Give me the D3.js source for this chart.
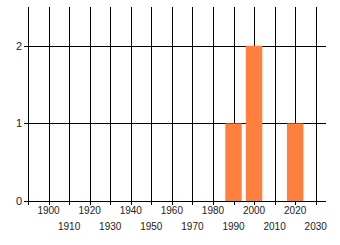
<!DOCTYPE html>
<html>
<head>
<meta charset="utf-8">
<script src="https://cdn.jsdelivr.net/npm/d3@7"></script>
<style>
  body { margin: 0; background: #fff; }
  text { font-family: "Liberation Sans", Arial, sans-serif; }
</style>
</head>
<body>
<div class="chart"></div>
<script>
const svgWidth = 340;
const svgHeight = 245;

// decades that have counts
const decades = [1990, 2000, 2020];
const counts = [1, 2, 1];

const xTicks = [1890, 1900, 1910, 1920, 1930, 1940, 1950, 1960, 1970, 1980, 1990, 2000, 2010, 2020, 2030];
const yTicks = [0, 1, 2];

const margin = { top: 7, right: 14, bottom: 44, left: 28 };

const svg = d3.select(".chart")
  .append("svg")
  .attr("width", svgWidth)
  .attr("height", svgHeight);

const x = d3.scaleLinear()
  .domain([1890, 2035])
  .range([margin.left, svgWidth - margin.right]);

const y = d3.scaleLinear()
  .domain([0, 2.5])
  .range([svgHeight - margin.bottom, margin.top]);

const g = svg.append("g").attr("shape-rendering", "crispEdges");

// vertical grid lines (run a little below the axis as tick marks)
g.selectAll(".vgrid")
  .data(xTicks)
  .enter()
  .append("line")
  .attr("x1", d => Math.round(x(d)) + 0.5)
  .attr("x2", d => Math.round(x(d)) + 0.5)
  .attr("y1", y(2.5))
  .attr("y2", Math.round(y(0)) + 4)
  .attr("stroke", "#000");

// horizontal grid lines with left tick marks
g.selectAll(".hgrid")
  .data(yTicks)
  .enter()
  .append("line")
  .attr("x1", x(1890) - 4)
  .attr("x2", x(2035))
  .attr("y1", d => Math.round(y(d)) + 0.5)
  .attr("y2", d => Math.round(y(d)) + 0.5)
  .attr("stroke", "#000");

// bars
svg.selectAll(".bar")
  .data(decades)
  .enter()
  .append("rect")
  .attr("x", d => x(d - 4))
  .attr("width", d => x(d + 4) - x(d - 4))
  .attr("y", (d, i) => y(counts[i]))
  .attr("height", (d, i) => y(0) - y(counts[i]))
  .attr("fill", "#ff7f3f");

// y labels
svg.selectAll(".ylab")
  .data(yTicks)
  .enter()
  .append("text")
  .attr("x", x(1890) - 6)
  .attr("y", d => y(d) + 4)
  .attr("text-anchor", "end")
  .attr("font-size", "11px")
  .attr("fill", "#222")
  .text(d => d);

// x labels, staggered in two rows
svg.selectAll(".xlab")
  .data(xTicks.slice(1))
  .enter()
  .append("text")
  .attr("x", d => x(d))
  .attr("y", (d, i) => i % 2 === 0 ? 214 : 230)
  .attr("text-anchor", "middle")
  .attr("font-size", "10px")
  .attr("fill", "#222")
  .text(d => d);
</script>
</body>
</html>
